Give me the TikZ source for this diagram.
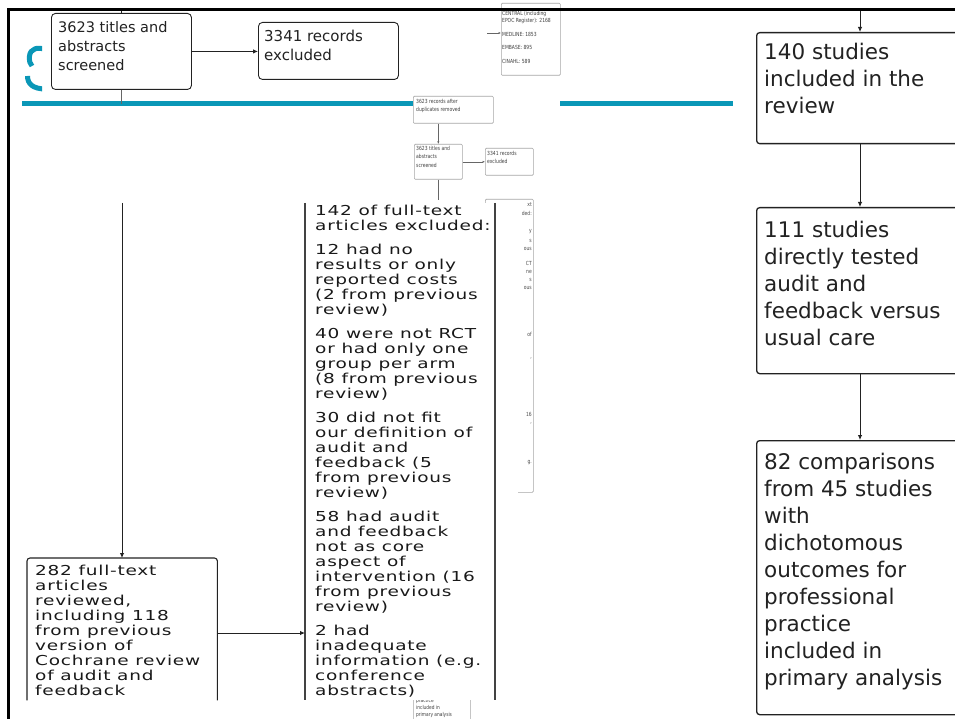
\documentclass[tikz,border=0pt]{standalone}
\usepackage{fontspec}
\setmainfont{DejaVu Sans}
\newfontfamily\widefont[FakeStretch=1.35,LetterSpace=5.5]{DejaVu Sans}
\newfontfamily\tinyfont[FakeStretch=0.8]{DejaVu Sans}
\usetikzlibrary{arrows.meta,calc}
\definecolor{teal1}{HTML}{0A97B7}
\definecolor{ink}{HTML}{222222}
\begin{document}
\begin{tikzpicture}[x=1pt,y=-1pt,
  bigbox/.style={draw=ink, line width=1.3pt, rounded corners=3pt, fill=white, anchor=north west, inner sep=0pt},
  midbox/.style={draw=ink, line width=0.9pt, rounded corners=4pt, fill=white, anchor=north west, inner sep=0pt},
  tinybox/.style={draw=black!35, line width=0.6pt, rounded corners=1pt, fill=white, anchor=north west, inner sep=0pt},
  bigtxt/.style={anchor=north west, inner sep=0pt, align=left, text=ink, font=\fontsize{21.5}{27}\selectfont},
  midtxt/.style={anchor=north west, inner sep=0pt, align=left, text=ink},
  widetxt/.style={anchor=north west, inner sep=0pt, align=left, text=black!90, font=\widefont\fontsize{13.7}{15}\selectfont},
  tinytxt/.style={anchor=north west, inner sep=0pt, align=left, text=black!75, font=\tinyfont\fontsize{5.6}{8.5}\selectfont},
  fragtxt/.style={anchor=east, inner sep=0pt, text=black!70, font=\tinyfont\fontsize{5.6}{7}\selectfont},
  arr/.style={-{Latex[length=5pt,width=4.5pt]}, line width=0.9pt, draw=ink},
  tarr/.style={-{Latex[length=2.5pt,width=2.2pt]}, line width=0.5pt, draw=black!60},
  boxline/.style={draw=ink, line width=1.1pt}
]
\useasboundingbox (0,0) rectangle (955,719);
\clip (0,0) rectangle (955,719);
\fill[white] (0,0) rectangle (955,719);

% teal partial letter
\begin{scope}
  \clip (0,0) rectangle (42,100);
  \draw[teal1, line width=5pt] (46,50) .. controls (38,46) and (30,49) .. (29.5,56) .. controls (29,61) and (30,64) .. (32,66);
  \draw[teal1, line width=5pt] (27.5,76) .. controls (27.5,84) and (33,89) .. (46,89);
\end{scope}

% small source box
\node[tinybox, minimum width=59pt, minimum height=72pt] (C) at (501,3) {};
\node[tinytxt, font=\tinyfont\fontsize{5.6}{7.5}\selectfont] (Ct) at (502,11)
  {CENTRAL (including\\EPOC Register): 2168\\[6pt]MEDLINE: 1853\\[6pt]EMBASE: 895\\[6pt]CINAHL: 589};
\coordinate (cin) at (487,33);
\draw[tarr] (cin) -- (cin -| C.west);

% small boxes of the reduced flowchart
\node[tinybox, minimum width=80pt, minimum height=27pt] (D) at (413,96) {};
\node[tinytxt] (Dt) at (416,99) {3623 records after\\duplicates removed};
\node[tinybox, minimum width=48pt, minimum height=35pt] (E) at (414,144) {};
\node[tinytxt] (Et) at (416,146) {3623 titles and\\abstracts\\screened};
\node[tinybox, minimum width=48pt, minimum height=27pt] (F) at (485,148) {};
\node[tinytxt] (Ft) at (487,151) {3341 records\\excluded};
\draw[tarr] (E.north |- D.south) -- (E.north);
\draw[tarr] (E.east) -- (E.east -| F.west);
\coordinate (eout) at (439,200);
\draw[black!60, line width=0.5pt] (E.south) -- (E.south |- eout);
\node[tinybox, minimum width=48pt, minimum height=293pt] (G) at (485,199) {};
\foreach \yy/\tt [count=\i] in {205/xt, 213/ded:, 232/y, 241/s, 249/ous, 263/CT, 272/ne, 280/s, 288/ous, 334/of, 358/{,}, 414/16, 423/{,}, 463/{g.}}
  \node[fragtxt] (g\i) at (532,\yy) {\tt};

% bottom fragment
\node[tinybox, minimum width=57pt, minimum height=40pt] (P) at (413,696) {};
\node[tinytxt, font=\tinyfont\fontsize{5.4}{6.9}\selectfont] (Pt) at (416,698.5) {practice\\included in\\primary analysis};

% teal rule
\draw[teal1, line width=5pt] (22,104) -- (413,104);
\draw[teal1, line width=5pt] (560,104) -- (733,104);

% top left boxes
\node[midbox, minimum width=140pt, minimum height=76pt] (A) at (51,13) {};
\node[midtxt, font=\fontsize{14.5}{19}\selectfont] (At) at (58,21) {3623 titles and\\abstracts\\screened};
\node[midbox, minimum width=140pt, minimum height=57pt] (B) at (258,22) {};
\node[midtxt, font=\fontsize{15}{19}\selectfont] (Bt) at (264,30) {3341 records\\excluded};
\draw[arr] (A.east) -- (A.east -| B.west);
\coordinate (topA) at (122,9);
\draw[ink, line width=0.9pt] (A.north) -- (A.north |- topA);
\coordinate (rule) at (122,104);
\draw[black!60, line width=0.9pt] (A.south) -- (A.south |- rule);

% excluded-articles panel
\node[draw=none, fill=white, minimum width=190pt, minimum height=497pt, anchor=north west, inner sep=0pt] (H) at (305,203) {};
\fill[white] (H.north east) rectangle (518,700);
\draw[ink!85, line width=1.2pt] (H.north west) -- (H.south west);
\draw[ink!85, line width=2pt] (H.north east) -- (H.south east);
\node[widetxt] (Ht) at (315,204.5) {142 of full-text\\articles excluded:\\[9pt]
12 had no\\results or only\\reported costs\\(2 from previous\\review)\\[9pt]
40 were not RCT\\or had only one\\group per arm\\(8 from previous\\review)\\[9pt]
30 did not fit\\our definition of\\audit and\\feedback (5\\from previous\\review)\\[9pt]
58 had audit\\and feedback\\not as core\\aspect of\\intervention (16\\from previous\\review)\\[9pt]
2 had\\inadequate\\information (e.g.\\conference\\abstracts)};

% full-text box
\node[draw=none, fill=white, minimum width=190pt, minimum height=142pt, anchor=north west, inner sep=0pt] (I) at (27,558) {};
\draw[boxline, rounded corners=3pt] (I.south west) -- (I.north west) -- (I.north east) -- (I.south east);
\node[widetxt] (It) at (35,564.5) {282 full-text\\articles\\reviewed,\\including 118\\from previous\\version of\\Cochrane review\\of audit and\\feedback};
\coordinate (iin) at (122,203);
\draw[arr] (iin) -- (iin |- I.north);
\coordinate (iy) at (0,633);
\draw[arr] (I.east |- iy) -- (H.west |- iy);

% right column
\node[bigbox, minimum width=215pt, minimum height=111pt] (J) at (756,32) {};
\node[bigtxt] (Jt) at (764,43.4) {140 studies\\included in the\\review};
\node[bigbox, minimum width=215pt, minimum height=166pt] (K) at (756,207) {};
\node[bigtxt] (Kt) at (764,221.4) {111 studies\\directly tested\\audit and\\feedback versus\\usual care};
\node[bigbox, minimum width=215pt, minimum height=274pt] (L) at (756,440) {};
\node[bigtxt] (Lt) at (764,453.4) {82 comparisons\\from 45 studies\\with\\dichotomous\\outcomes for\\professional\\practice\\included in\\primary analysis};
\coordinate (topJ) at (860,9);
\draw[arr] (topJ) -- (topJ |- J.north);
\draw[arr] (topJ |- J.south) -- (topJ |- K.north);
\draw[arr] (topJ |- K.south) -- (topJ |- L.north);

% frame
\draw[black, line width=3pt] (8,719) -- (8,9.5) -- (955,9.5);
\end{tikzpicture}
\end{document}
